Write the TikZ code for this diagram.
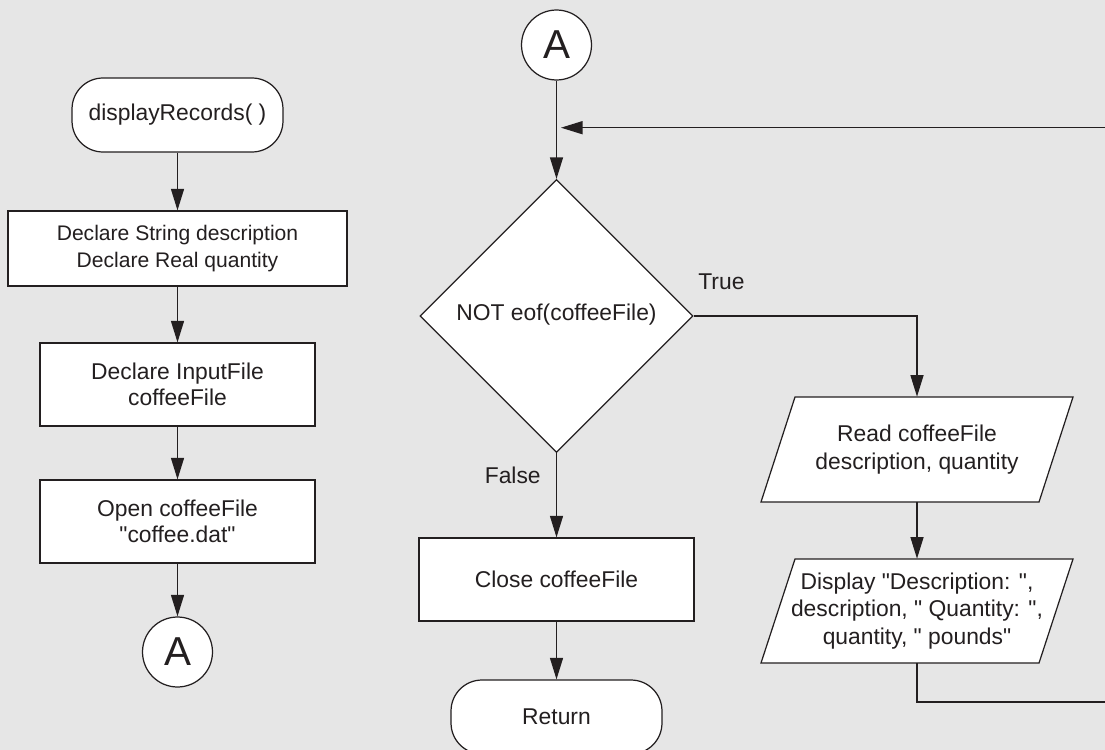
\documentclass[tikz,border=0pt]{standalone}
\usepackage{fontspec}
\setmainfont{Liberation Sans}[Ligatures=TeXOff]
\usetikzlibrary{shapes.geometric,arrows.meta}
\definecolor{bg}{HTML}{E6E6E6}
\definecolor{ink}{HTML}{231F20}
\begin{document}
\begin{tikzpicture}[x=0.02cm,y=-0.02cm,
  every node/.style={text=ink},
  base/.style={draw=ink,fill=white,line width=0.7pt,align=center,inner sep=0pt},
  proc/.style={base,rectangle,minimum width=5.5cm,minimum height=1.66cm,font=\fontsize{13}{15}\selectfont},
  term/.style={base,rectangle,rounded corners=0.62cm,minimum width=4.22cm,minimum height=1.48cm,font=\fontsize{13}{15}\selectfont},
  conn/.style={base,circle,minimum size=1.4cm,font=\fontsize{23}{26}\selectfont},
  dec/.style={base,diamond,aspect=1,minimum size=5.46cm,font=\fontsize{13}{15}\selectfont},
  iotext/.style={align=center,inner sep=0pt,minimum width=5.56cm,minimum height=2.1cm,font=\fontsize{13}{15.6}\selectfont},
  iobox/.style={draw=ink,fill=white,line width=0.7pt},
  line/.style={draw=ink,line width=0.7pt},
  arr/.style={line,-{Triangle[length=4.3mm,width=2.6mm]}},
  lbl/.style={font=\fontsize{13}{15}\selectfont,inner sep=0pt}
]
\fill[bg] (0,0) rectangle (1105,750);
\useasboundingbox (0,0) rectangle (1105,750);

% left column
\node[term] (start) at (177.5,115) {displayRecords( )};
\node[proc,minimum width=6.78cm,minimum height=1.5cm,font=\fontsize{12}{15.2}\selectfont] (decl1) at (177.5,248.5) {Declare String description\\Declare Real quantity};
\node[proc] (decl2) at (177.5,384.5) {Declare InputFile\\coffeeFile};
\node[proc] (open) at (177.5,521.5) {Open coffeeFile\\"coffee.dat"};
\node[conn] (A1) at (177.5,652) {A};

% middle column
\node[conn] (A2) at (556.5,45) {A};
\node[dec] (dec) at (556.5,316) {\raisebox{4pt}{NOT eof(coffeeFile)}};
\node[proc] (close) at (556.5,579.5) {Close coffeeFile};
\node[term] (ret) at (556.5,717) {Return};

% right column
\draw[iobox] (761,502) -- (795,397) -- (1073,397) -- (1039,502) -- cycle;
\node[iotext] (read) at (917,449.5) {Read coffeeFile\\description, quantity};
\draw[iobox] (761,663) -- (795,559) -- (1073,559) -- (1039,663) -- cycle;
\node[iotext,minimum height=2.08cm] (disp) at (917,611) {Display "Description: ",\\description, " Quantity: ",\\quantity, " pounds"};

% labels
\node[lbl,anchor=west] (tT) at (698,282) {True};
\node[lbl,anchor=east] (tF) at (541,475) {False};

% connectors
\draw[arr] (start) -- (decl1);
\draw[arr] (decl1) -- (decl2);
\draw[arr] (decl2) -- (open);
\draw[arr] (open) -- (A1);
\draw[arr] (A2) -- (dec);
\draw[arr] (dec.east) -| (read.north);
\draw[arr] (read) -- (disp);
\draw[arr] (dec) -- (close);
\draw[arr] (close) -- (ret);
\coordinate (lpB) at (1110,702);
\coordinate (lpT) at (1110,127.7);
\coordinate (lpE) at (561,127.7);
\draw[arr] (disp.south) |- (lpB) -- (lpT) -- (lpE);
\end{tikzpicture}
\end{document}
